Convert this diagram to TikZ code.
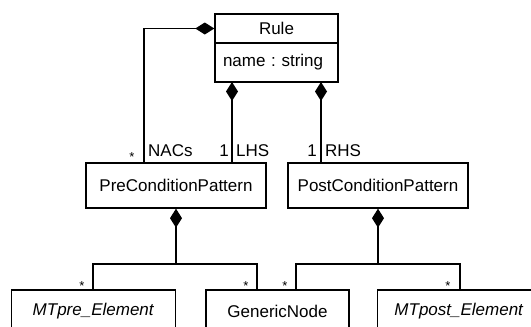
\documentclass[tikz,border=0pt]{standalone}
\usepackage{fontspec}
\setmainfont{Liberation Sans}
\usetikzlibrary{arrows.meta}
\frenchspacing
\begin{document}
\begin{tikzpicture}[x=1pt,y=-1pt,
  every node/.style={font=\fontsize{17}{20}\selectfont},
  umlclass/.style={draw,line width=1.4pt,inner sep=0pt,align=center},
  link/.style={line width=1.3pt},
  comp/.style={link,{Diamond[length=19pt,width=12pt]}-},
  mult/.style={inner sep=0pt,anchor=base,font=\fontsize{13}{15}\selectfont},
  role/.style={inner sep=0pt}]
\useasboundingbox (0,0) rectangle (531,327);
\clip (0,0) rectangle (531,327);

% class Rule with its attribute compartment
\node[umlclass,minimum width=123pt,minimum height=29pt] (rule) at (276.5,28.5) {Rule};
\node[umlclass,minimum width=123pt,minimum height=39pt,text width=107pt,align=left] (ruleattr) at (276.5,62.5) {name :\ string};

% pattern classes
\node[umlclass,minimum width=180pt,minimum height=45pt] (pre) at (176,185.5) {PreConditionPattern};
\node[umlclass,minimum width=180pt,minimum height=45pt] (post) at (378,185.5) {PostConditionPattern};

% element classes
\node[umlclass,minimum width=164pt,minimum height=42pt] (mtpre) at (93.5,311) {\textit{MTpre\_Element}};
\node[umlclass,minimum width=143pt,minimum height=42pt] (generic) at (277.5,311) {GenericNode};
\node[umlclass,minimum width=163pt,minimum height=42pt] (mtpost) at (459,311) {\textit{MTpost\_Element}};

% connector end points on the class borders
\coordinate (nacend) at (144,163);
\coordinate (lhsstart) at (232,82);
\coordinate (lhsend) at (232,163);
\coordinate (rhsstart) at (321,82);
\coordinate (rhsend) at (321,163);
\coordinate (prejoin) at (176,264);
\coordinate (postjoin) at (378,264);
\coordinate (mtpretop) at (93,290);
\coordinate (genleft) at (257,290);
\coordinate (genright) at (296,290);
\coordinate (mtposttop) at (460,290);

% compositions of Rule
\draw[comp] (rule.west) -| (nacend);
\draw[comp] (lhsstart) -- (lhsend);
\draw[comp] (rhsstart) -- (rhsend);

% compositions of the patterns
\draw[comp] (pre.south) -- (prejoin);
\draw[link] (mtpretop) |- (prejoin) -| (genleft);
\draw[comp] (post.south) -- (postjoin);
\draw[link] (genright) |- (postjoin) -| (mtposttop);

% role names and multiplicities
\node[mult] (m1) at (132,161) {*};
\node[role,anchor=west] (r1) at (148,151) {NACs};
\node[role,anchor=east] (m2) at (229,151) {1};
\node[role,anchor=west] (r2) at (236,151) {LHS};
\node[role,anchor=east] (m3) at (317,151) {1};
\node[role,anchor=west] (r3) at (325,151) {RHS};
\node[mult] (m4) at (82,290) {*};
\node[mult] (m5) at (246,290) {*};
\node[mult] (m6) at (285,290) {*};
\node[mult] (m7) at (448,290) {*};
\end{tikzpicture}
\end{document}
